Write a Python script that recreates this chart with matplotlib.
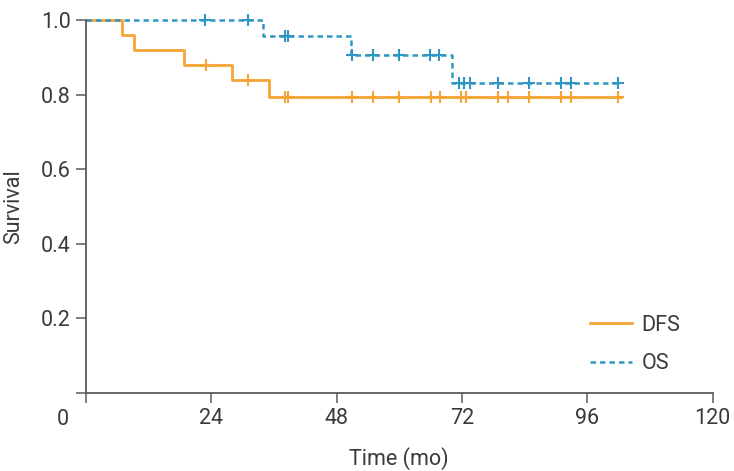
import numpy as np
import matplotlib
matplotlib.use("Agg")
import matplotlib.pyplot as plt

plt.rcParams['font.family'] = ['Roboto', 'DejaVu Sans']

# Kaplan-Meier steps (time in months, survival)
dfs_time = [0, 7.0, 9.2, 18.8, 28.0, 35.0, 102.5]
dfs_surv = [1.0, 0.96, 0.92, 0.88, 0.838, 0.794, 0.794]
dfs_censor = [23, 31, 38.1, 38.7, 50.9, 54.9, 59.9, 66, 67.8, 71.9, 72.7,
              78.8, 80.9, 84.9, 90.9, 92.9, 101.9]

os_time = [0, 33.9, 50.8, 70.0, 102.5]
os_surv = [1.0, 0.957, 0.905, 0.830, 0.830]
os_censor = [22.9, 31.1, 38.1, 38.6, 50.9, 54.9, 59.9, 65.8, 67.6, 71.4,
             72.4, 73.5, 78.8, 84.9, 90.9, 92.9, 101.9]

x_ticks = [0, 24, 48, 72, 96, 120]
y_ticks = [0, 0.2, 0.4, 0.6, 0.8, 1.0]

orange = '#F7A436'
blue = '#2F96C4'
axis_gray = '#5a5a5a'
text_gray = '#3a3a3a'
fs = 15.5


def surv_at(times, surv, t):
    idx = np.searchsorted(times, t, side='right') - 1
    return np.asarray(surv)[idx]


fig = plt.figure(figsize=(7.34, 4.71), dpi=100)
ax = fig.add_axes([0.117, 0.1663, 0.854, 0.7912])

ax.step(dfs_time, dfs_surv, where='post', color=orange, lw=2, clip_on=False,
        label='DFS')
ax.plot(dfs_censor, surv_at(dfs_time, dfs_surv, dfs_censor), ls='none',
        marker='+', ms=8, mew=1.5, color=orange, clip_on=False)

ax.step(os_time, os_surv, where='post', color=blue, lw=1.8,
        ls=(0, (2.2, 1.6)), clip_on=False, label='OS')
ax.plot(os_censor, surv_at(os_time, os_surv, os_censor), ls='none',
        marker='+', ms=8, mew=1.5, color=blue, clip_on=False)

ax.set_xlim(0, 120)
ax.set_ylim(0, 1.0)
ax.set_xticks(x_ticks)
ax.set_xticklabels([''] + [str(t) for t in x_ticks[1:]])
ax.set_yticks(y_ticks)
ax.set_yticklabels([''] + ['%.1f' % t for t in y_ticks[1:]])

for s in ['top', 'right']:
    ax.spines[s].set_visible(False)
for s in ['left', 'bottom']:
    ax.spines[s].set_color(axis_gray)
    ax.spines[s].set_linewidth(1.3)

ax.tick_params(axis='both', direction='out', length=7, width=1.1,
               color=axis_gray, labelcolor=text_gray, labelsize=fs)
ax.tick_params(axis='x', pad=4)
ax.tick_params(axis='y', pad=4)

# origin label sits at the corner
ax.annotate('0', xy=(0, 0), xycoords='axes fraction', xytext=(-16.6, -11.5),
            textcoords='offset points', ha='center', va='top',
            fontsize=fs, color=text_gray)

ax.set_xlabel('Time (mo)', fontsize=fs, color=text_gray, labelpad=13)
ax.set_ylabel('Survival', fontsize=fs, color=text_gray)
ax.yaxis.set_label_coords(-0.099, 0.5)

leg = ax.legend(loc='upper left', bbox_to_anchor=(0.79, 0.232), frameon=False,
                fontsize=fs, handlelength=1.95, handletextpad=0.45,
                labelspacing=0.8, borderaxespad=0, labelcolor=text_gray)

fig.savefig('out.png', dpi=100)
